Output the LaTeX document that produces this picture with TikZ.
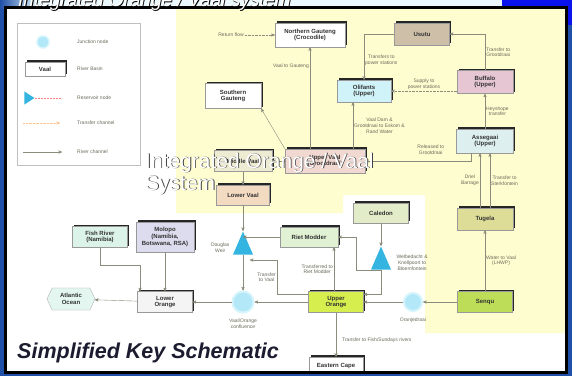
\documentclass[tikz,border=0pt]{standalone}
\usepackage{fontspec}
\setmainfont{Liberation Sans}
\usepackage{tikz}
\usetikzlibrary{arrows,shapes,shapes.geometric,shapes.symbols,shadows,positioning}

\definecolor{slideblue}{HTML}{2050A8}
\definecolor{brightblue}{HTML}{0A12EE}
\definecolor{titlenavy}{HTML}{1C1C30}
\definecolor{panelyellow}{HTML}{FEFDD0}
\definecolor{labelgray}{HTML}{6A6A5A}
\definecolor{linegray}{HTML}{8C8C7C}
\definecolor{usutufill}{HTML}{CEBFA8}
\definecolor{olifantsfill}{HTML}{CFF3F8}
\definecolor{buffalofill}{HTML}{E6C6D2}
\definecolor{assegaaifill}{HTML}{DDEFEF}
\definecolor{tugelafill}{HTML}{DDDD98}
\definecolor{uvaalfill}{HTML}{F1D9D2}
\definecolor{mvaalfill}{HTML}{EEEBD3}
\definecolor{lvaalfill}{HTML}{F3DBC2}
\definecolor{rietfill}{HTML}{E1F1D3}
\definecolor{caledonfill}{HTML}{E2ECC8}
\definecolor{uorangefill}{HTML}{D6EE4E}
\definecolor{senqufill}{HTML}{BDDD58}
\definecolor{lorangefill}{HTML}{F4F4F4}
\definecolor{atlanticfill}{HTML}{E4F6F0}
\definecolor{fishfill}{HTML}{DCF3EA}
\definecolor{molopofill}{HTML}{DCDCEE}
\definecolor{junctfill}{HTML}{B2E8F8}
\definecolor{junctglow}{HTML}{D6F4FC}
\definecolor{resblue}{HTML}{34B4E0}

\newcommand{\boxfont}{\fontsize{6}{6.8}\selectfont\bfseries}
\newcommand{\lblfont}{\fontsize{5}{5.8}\selectfont}

\tikzset{
  every picture/.style = {
    x = 1pt,
    y = -1pt,
    >=stealth',
  }
  , % river basins
  basin/.style = {
    rectangle,
    draw = black!40,
    line width = 0.3pt,
    font = \boxfont,
    text = black!80,
    align = center,
    inner sep = 1pt,
    minimum width = 55pt,
    minimum height = 21pt,
    drop shadow = {shadow xshift=1.6pt, shadow yshift=1.6pt, fill=black!85, opacity=1}
  }
  ,
  ocean/.style = {
    signal,
    signal to = west and east,
    signal pointer angle = 130,
    draw = black!35,
    line width = 0.3pt,
    fill = atlanticfill,
    font = \boxfont,
    text = black!80,
    align = center,
    inner sep = 1pt,
    minimum width = 48pt,
    minimum height = 22pt
  }
  ,
  junction/.style = {
    circle,
    fill = junctfill,
    draw = junctglow,
    line width = 2pt,
    inner sep = 0pt,
    minimum size = 18pt
  }
  ,
  reservoir/.style = {
    isosceles triangle,
    isosceles triangle stretches,
    shape border rotate = 90,
    fill = resblue,
    inner sep = 0pt,
    minimum width = 20pt,
    minimum height = 23pt
  }
  , % labels of edges
  lbl/.style = {
    font = \lblfont,
    text = labelgray,
    align = center,
    inner sep = 1pt
  }
  ,
  lgtext/.style = {
    font = \lblfont,
    text = labelgray,
    anchor = west,
    inner sep = 0pt
  }
  ,
  flow/.style = {
    draw = linegray,
    line width = 0.4pt,
    ->
  }
  ,
  transfer/.style = {
    flow,
    densely dotted
  }
  ,
  bannertext/.style = {
    font = \fontsize{21}{24}\selectfont,
    anchor = base west,
    inner sep = 0pt
  }
}

\begin{document}
\begin{tikzpicture}
  \useasboundingbox (0,0) rectangle (572,376);

  % slide background and panel
  \fill[slideblue] (0,0) rectangle (572,376);
  \fill[white!92!cyan] (20,0) rectangle (502,8);
  \shade[left color=slideblue, right color=white!92!cyan] (0,0) rectangle (40,8);
  \fill[brightblue] (502,0) rectangle (572,25);
  \fill[white] (5,7) rectangle (567,373);

  \begin{scope}
    \clip (5,7) rectangle (567,373);
    \fill[panelyellow] (176,7) -- (567,7) -- (567,333) -- (425,333) -- (425,195)
      -- (343,195) -- (343,213) -- (176,213) -- cycle;

    % legend
    \draw[black!25, line width=0.4pt] (17,23) rectangle (140,165);
    \node at (43,42) [junction, minimum size=12pt, line width=1.5pt] (lgjunct) {};
    \node at (45,69) [basin, fill=white, minimum width=40pt, minimum height=14pt] (lgbasin) {Vaal};
    \node at (28,98) [reservoir, shape border rotate=0, minimum width=13pt, minimum height=10pt] (lgres) {};
    \coordinate (lgresend) at (62,98);
    \coordinate (lgtrfrom) at (23,123);
    \coordinate (lgtrto) at (60,123);
    \coordinate (lgrvfrom) at (23,152);
    \coordinate (lgrvto) at (62,152);
    \draw[densely dotted, red!50, line width=0.5pt] (lgres) -- (lgresend);
    \draw[transfer, draw=orange!45] (lgtrfrom) -- (lgtrto);
    \draw[flow] (lgrvfrom) -- (lgrvto);
    \node at (77,42) [lgtext] {Junction node};
    \node at (77,69) [lgtext] {River Basin};
    \node at (77,98) [lgtext] {Reservoir node};
    \node at (77,123) [lgtext] {Transfer channel};
    \node at (77,152) [lgtext] {River channel};

    % basins
    \node at (310,35) [basin, fill=white, minimum width=70pt, minimum height=24pt] (ngauteng) {Northern Gauteng\\(Crocodile)};
    \node at (422,34) [basin, fill=usutufill, minimum height=22pt] (usutu) {Usutu};
    \node at (233,96) [basin, fill=white, minimum width=56pt, minimum height=25pt] (sgauteng) {Southern\\Gauteng};
    \node at (364,91) [basin, fill=olifantsfill, minimum width=54pt, minimum height=22pt] (olifants) {Olifants\\(Upper)};
    \node at (485,82) [basin, fill=buffalofill, minimum width=56pt, minimum height=23pt] (buffalo) {Buffalo\\(Upper)};
    \node at (485,141) [basin, fill=assegaaifill, minimum width=57pt, minimum height=24pt] (assegaai) {Assegaai\\(Upper)};
    \node at (485,219) [basin, fill=tugelafill, minimum width=56pt, minimum height=22pt] (tugela) {Tugela};
    \node at (325,161) [basin, fill=uvaalfill, minimum width=80pt, minimum height=24pt] (uvaal) {Upper Vaal\\(Grootdraai)};
    \node at (243,161) [basin, fill=mvaalfill, minimum width=58pt] (mvaal) {Middle Vaal};
    \node at (243,195) [basin, fill=lvaalfill, minimum width=53pt, minimum height=20pt] (lvaal) {Lower Vaal};
    \node at (243,248) [reservoir] (douglas) {};
    \node at (243,302) [junction, minimum size=21pt] (confl) {};
    \node at (309,237) [basin, fill=rietfill, minimum width=58pt, minimum height=20pt] (rietmodder) {Riet Modder};
    \node at (381,213) [basin, fill=caledonfill, minimum height=20pt] (caledon) {Caledon};
    \node at (381,263) [reservoir] (caledonres) {};
    \node at (336,302) [basin, fill=uorangefill] (uorange) {Upper\\Orange};
    \node at (413,302) [junction] (senqujn) {};
    \node at (485,302) [basin, fill=senqufill] (senqu) {Senqu};
    \node at (336,366) [basin, fill=white, minimum width=54pt, minimum height=18pt] (ecape) {Eastern Cape};
    \node at (165,302) [basin, fill=lorangefill] (lorange) {Lower\\Orange};
    \node at (71,299) [ocean] (atlantic) {Atlantic\\Ocean};
    \node at (100,237) [basin, fill=fishfill] (fishriver) {Fish River\\(Namibia)};
    \node at (165,237) [basin, fill=molopofill, minimum width=58pt, minimum height=30pt] (molopo) {Molopo\\(Namibia,\\Botswana, RSA)};
    \node[lbl, left = 30pt of ngauteng] (retflow) {Return flow};

    % Gauteng
    \path (retflow) edge [transfer] (ngauteng);
    \draw [flow] (uvaal.north -| ngauteng) -- node [lbl, pos=0.81, left] {Vaal to Gauteng} (ngauteng);
    \path (uvaal.north west) edge [flow] (sgauteng.south east);

    % eastern transfers
    \draw [flow] (usutu) -| node [lbl, pos=0.79, right] {Transfers to\\power stations} (olifants);
    \draw [flow] (buffalo) |- node [lbl, pos=0.25, right] {Transfer to\\Grootdraai} (usutu);
    \draw [transfer] (olifants.east -| buffalo.west) -- node [lbl, above] {Supply to\\power stations} (olifants.east);
    \path (assegaai) edge [flow] node [lbl, right] {Heyshope\\transfer} (buffalo);
    \draw [flow] ([xshift=-11pt]uvaal.north -| olifants.south) -- node [lbl, right] {Vaal Dam \&\\Grootdraai to Eskom \&\\Rand Water} ([xshift=-11pt]olifants.south);
    \draw [flow] ([xshift=-14pt]assegaai.south) |- node [lbl, pos=0.69, above=5pt] {Released to\\Grootdraai} (uvaal.east);
    \path ([xshift=-5pt]tugela.north) edge [flow] node [lbl, left] {Driel\\Barrage} ([xshift=-5pt]assegaai.south);
    \path ([xshift=5pt]tugela.north) edge [flow] node [lbl, right] {Transfer to\\Sterkfontein} ([xshift=5pt]assegaai.south);

    % Vaal down to the Orange
    \path (uvaal) edge [flow] (mvaal);
    \path (mvaal) edge [flow] (lvaal);
    \path (lvaal) edge [flow] (douglas);
    \path (douglas) edge [flow] (confl);
    \path (confl) edge [flow] (lorange);
    \path (lorange) edge [flow] (atlantic);
    \node[lbl, left = 5pt of douglas] {Douglas\\Weir};
    \node[lbl, below = 4pt of confl] {Vaal/Orange\\confluence};

    % tributaries of the lower Orange
    \coordinate (fishbend) at (140,265);
    \draw [flow] (fishriver) |- (fishbend) -- (fishbend |- lorange.north);
    \path (molopo) edge [flow] (lorange);

    % Riet Modder and Caledon
    \path (rietmodder.west) edge [flow] (rietmodder.west -| douglas);
    \coordinate (ovbend) at (277,260);
    \draw [flow] ([yshift=-3pt]uorange.north west) -| node [lbl, pos=0.75, left] {Transfer\\to Vaal} (ovbend) -- (ovbend -| douglas.south east);
    \draw [flow] ([xshift=-2pt]uorange.north) -- node [lbl, left] {Transferred to\\Riet Modder} ([xshift=-2pt]uorange.north |- rietmodder.south);
    \path (caledon) edge [flow] (caledonres);
    \coordinate (novox) at (356,0);
    \draw [flow] (caledonres.south) -- (caledonres.south -| novox) |- (rietmodder.east);
    \draw [flow] (caledonres.south) |- ([yshift=-3pt]uorange.north east);
    \node[lbl, right = 7pt of caledonres] {Welbedacht \&\\Knellpoort to\\Bloemfontein};

    % Orange main stem
    \path (senqu) edge [flow] (senqujn);
    \path (senqujn) edge [flow] (uorange);
    \path (uorange) edge [flow] (confl);
    \node[lbl, below = 5pt of senqujn] {Oranjedraai};
    \path (senqu) edge [flow] node [lbl, right] {Water to Vaal\\(LHWP)} (tugela);
    \path (uorange) edge [flow] node [lbl, pos=0.62, right=5pt] {Transfer to Fish/Sundays rivers} (ecape);
  \end{scope}
  \draw[line width=2.5pt] (5.5,7.5) rectangle (566.5,372.5);

  % titles
  \node at (18.8,7.3) [bannertext, font=\fontsize{19}{22}\selectfont\itshape, text=black] (slideshade) {Integrated Orange / Vaal system};
  \node at (18,6.5) [bannertext, font=\fontsize{19}{22}\selectfont\itshape, text=white] (slidetitle) {Integrated Orange / Vaal system};
  \node at (145.8,168.8) [bannertext, text=black!75] (bannershade) {Integrated Orange / Vaal};
  \node at (145,168) [bannertext, text=white] (bannertop) {Integrated Orange / Vaal};
  \node at (145.8,190.8) [bannertext, text=black!75] (systemshade) {System};
  \node at (145,190) [bannertext, text=white] (bannerbottom) {System};
  \node at (17,358) [bannertext, font=\fontsize{21.5}{24}\selectfont\bfseries\itshape, text=titlenavy] (schemtitle) {Simplified Key Schematic};
\end{tikzpicture}
\end{document}
